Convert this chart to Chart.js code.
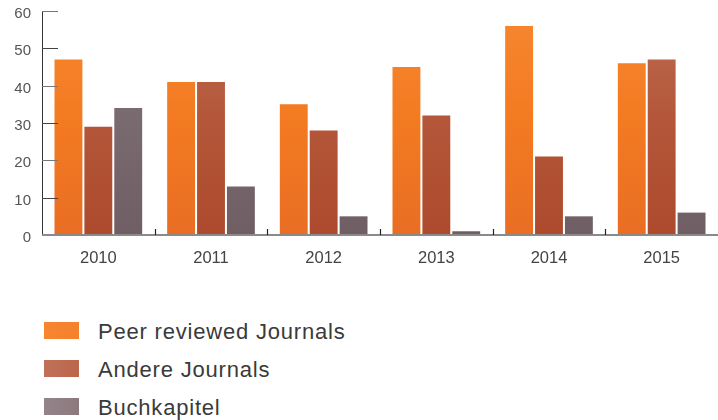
<!DOCTYPE html>
<html><head><meta charset="utf-8">
<script src="https://cdn.jsdelivr.net/npm/chart.js@4"></script>
<style>
html,body{margin:0;padding:0;background:#fff;overflow:hidden;}
#wrap{position:relative;width:718px;height:420px;overflow:hidden;}
#c{position:absolute;left:0;top:-9px;}
.leg{position:absolute;left:44px;font-family:'Liberation Sans',Arial,sans-serif;font-size:22px;color:#3a3a3a;letter-spacing:0.8px;}
.leg span.box{position:absolute;left:0;top:0;width:35px;height:17px;}
.leg span.t{position:absolute;left:54px;top:-1px;white-space:nowrap;line-height:22px;}
</style></head>
<body><div id="wrap"><canvas id="c" width="718" height="290"></canvas>
<div id="legend"></div></div>
<script>
const categories = ['2010','2011','2012','2013','2014','2015'];
const peerReviewed = [47, 41, 35, 45, 56, 46];
const andereJournals = [29, 41, 28, 32, 21, 47];
const buchkapitel = [34, 13, 5, 1, 5, 6];
const seriesNames = ['Peer reviewed Journals','Andere Journals','Buchkapitel'];
const yTicks = [0,10,20,30,40,50,60];

const gradStops = [
  ['#e96e24','#f37a21','#f6872f'],
  ['#ad4a2d','#b35639','#bd6b50'],
  ['#6f5e64','#796a6f','#86767b']
];
const legendColors = [['#f5812c','#f6862f'],['#bc664b','#c0705a'],['#8c797e','#94848a']];

function grad(i){
  return function(ctx){
    const ch = ctx.chart; const a = ch.chartArea;
    if(!a) return gradStops[i][1];
    const g = ch.ctx.createLinearGradient(0,a.bottom,0,a.top);
    g.addColorStop(0,gradStops[i][0]); g.addColorStop(0.5,gradStops[i][1]); g.addColorStop(1,gradStops[i][2]);
    return g;
  };
}

const tickPlugin = {
  id:'innerTicks',
  afterDraw(chart){
    const c = chart.ctx, y = chart.scales.y, x = chart.scales.x, a = chart.chartArea;
    c.save();
    c.strokeStyle='#333'; c.lineWidth=1;
    c.beginPath(); c.moveTo(a.left+0.5, y.getPixelForValue(60)); c.lineTo(a.left+0.5, y.getPixelForValue(0)); c.stroke();
    yTicks.forEach((v,i)=>{
      const py = Math.round(y.getPixelForValue(v))+0.5;
      if(v===0) return;
      c.strokeStyle = (i%2===1)?'#444':'#777';
      c.beginPath(); c.moveTo(a.left, py); c.lineTo(a.left+16, py); c.stroke();
    });
    const by = Math.round(y.getPixelForValue(0));
    c.strokeStyle='#8a8a8a'; c.lineWidth=2;
    c.beginPath(); c.moveTo(a.left, by); c.lineTo(a.right, by); c.stroke();
    c.strokeStyle='#222'; c.lineWidth=1.2;
    for(let i=1;i<categories.length;i++){
      const px = Math.round((x.getPixelForValue(i-1)+x.getPixelForValue(i))/2)+0.5;
      c.beginPath(); c.moveTo(px, by-6); c.lineTo(px, by); c.stroke();
    }
    c.restore();
  }
};

const data = {
  labels: categories,
  datasets: [peerReviewed, andereJournals, buchkapitel].map((d,i)=>({
    label: seriesNames[i], data: d, backgroundColor: grad(i), borderWidth:0,
    categoryPercentage: 0.796, barPercentage: 0.933
  }))
};

new Chart(document.getElementById('c'), {
  type:'bar',
  data,
  options:{
    responsive:false, animation:false,
    layout:{padding:{top:3,right:0,left:0,bottom:0}},
    plugins:{legend:{display:false}, tooltip:{enabled:false}},
    scales:{
      x:{
        grid:{display:false, drawTicks:false},
        border:{display:false},
        ticks:{padding:14, color:'#444', font:{family:'Liberation Sans', size:16.5}},
        afterFit(s){ s.height = 46; }
      },
      y:{
        min:0, max:60,
        grid:{display:false, drawTicks:false},
        border:{display:false},
        afterBuildTicks(s){ s.ticks = yTicks.map(v=>({value:v})); },
        ticks:{padding:11, labelOffset:3, color:'#555', font:{family:'Liberation Sans', size:15}},
        afterFit(s){ s.width = 42; }
      }
    }
  },
  plugins:[tickPlugin]
});

const lg = document.getElementById('legend');
const tops = [322, 360, 398];
seriesNames.forEach((n,i)=>{
  const d = document.createElement('div'); d.className='leg'; d.style.top = tops[i]+'px';
  d.innerHTML = '<span class="box" style="background:linear-gradient(to right,'+legendColors[i][1]+','+legendColors[i][0]+')"></span><span class="t">'+n+'</span>';
  lg.appendChild(d);
});
</script></body></html>
